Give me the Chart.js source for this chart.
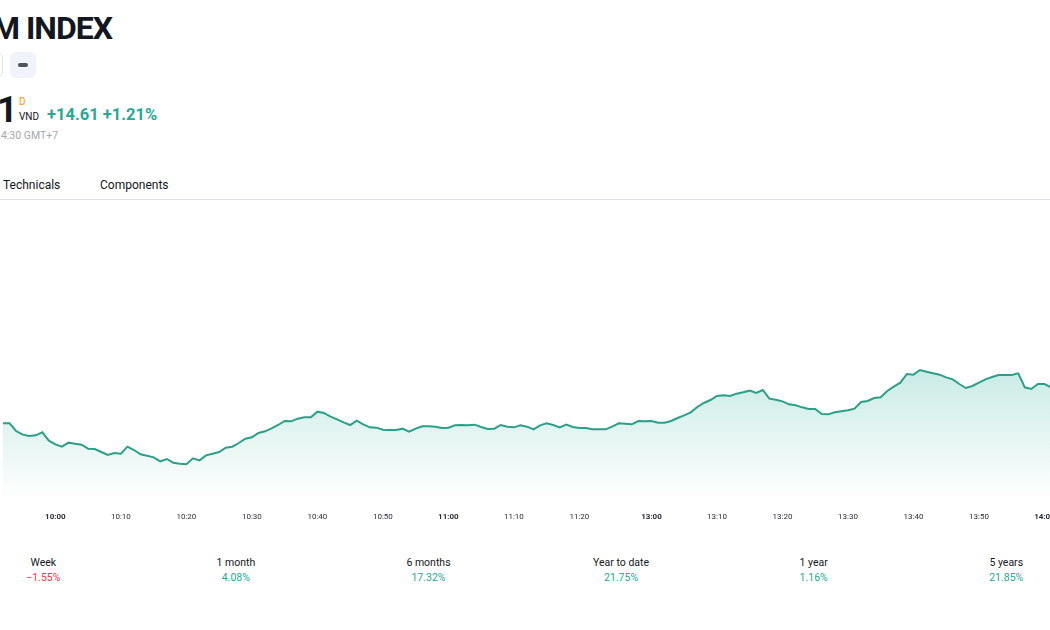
<!DOCTYPE html>
<html>
<head>
<meta charset="utf-8">
<script src="https://cdn.jsdelivr.net/npm/chart.js@4.4.0/dist/chart.umd.min.js"></script>
<style>
  html, body { margin: 0; padding: 0; background: #fff; }
  body { width: 1050px; height: 630px; overflow: hidden; position: relative; font-family: Roboto, "Noto Sans", sans-serif; color: #131722; }
  .t { position: absolute; white-space: nowrap; line-height: 1; }
  #title { left: -8px; top: 12px; font-size: 32px; font-weight: 700; letter-spacing: -1px; }
  .btn { position: absolute; top: 52px; height: 26px; border-radius: 6px; }
  #btn1 { left: -30px; width: 33px; border: 1px solid #e0e3eb; box-sizing: border-box; }
  #btn2 { left: 10px; width: 26px; background: #f0f3fa; }
  #btn2 i { position: absolute; left: 8px; top: 11px; width: 10px; height: 4px; border-radius: 2px; background: #50535e; }
  #price { left: -3px; top: 92px; font-size: 36px; font-weight: 700; }
  #flag { left: 19px; top: 97px; font-size: 10px; color: #ff9800; }
  #cur { left: 19px; top: 112px; font-size: 10px; }
  #chg { left: 47px; top: 107px; font-size: 16.5px; font-weight: 700; color: #22ab94; }
  #asof { left: -5px; top: 131px; font-size: 10.5px; color: #a3a6af; }
  .tab { top: 179px; font-size: 12px; }
  #divider { position: absolute; left: 0; top: 199px; width: 1050px; height: 1px; background: #e0e3eb; }
  #wrap { position: absolute; left: -9.4px; top: 200px; width: 1100px; height: 330px; }
  #perf { position: absolute; left: -53px; top: 555px; display: flex; }
  #perf div { width: 192.6px; text-align: center; font-size: 10.5px; line-height: 15px; }
</style>
</head>
<body>
<div class="t" id="title">M INDEX</div>
<div class="btn" id="btn1"></div>
<div class="btn" id="btn2"><i></i></div>
<div class="t" id="price">1</div>
<div class="t" id="flag">D</div>
<div class="t" id="cur">VND</div>
<div class="t" id="chg">+14.61 +1.21%</div>
<div class="t" id="asof">14:30 GMT+7</div>
<div class="t tab" style="left:3px">Technicals</div>
<div class="t tab" style="left:100px">Components</div>
<div id="divider"></div>
<div id="wrap"><canvas id="chart" width="1100" height="330"></canvas></div>
<div id="perf"></div>
<script>
// trading sessions (one point per minute), lunch break skipped
const sessions = [['09:52', '11:30'], ['13:00', '14:01']];

const prices = [
  1216.5, 1216.5, 1215.35, 1214.8, 1214.6, 1214.7, 1215.15, 1213.9, 1213.35, 1213.0,
  1213.6, 1213.45, 1213.3, 1212.7, 1212.65, 1212.2, 1211.75, 1212.05, 1211.95, 1213.0,
  1212.5, 1211.85, 1211.65, 1211.4, 1210.8, 1211.15, 1210.6, 1210.45, 1210.35, 1211.25,
  1210.95, 1211.7, 1211.95, 1212.2, 1212.85, 1213.0, 1213.55, 1214.2, 1214.4, 1215.05,
  1215.3, 1215.75, 1216.25, 1216.85, 1216.8, 1217.2, 1217.4, 1217.4, 1218.25, 1218.05,
  1217.5, 1217.1, 1216.65, 1216.25, 1216.9, 1216.35, 1215.9, 1215.85, 1215.55, 1215.5,
  1215.5, 1215.7, 1215.25, 1215.7, 1216.05, 1216.05, 1216.0, 1215.8, 1215.85, 1216.2,
  1216.25, 1216.2, 1216.3, 1215.95, 1215.65, 1215.7, 1216.25, 1216.0, 1215.9, 1216.2,
  1216.0, 1215.6, 1216.2, 1216.5, 1216.25, 1215.9, 1216.3, 1215.95, 1215.8, 1215.8,
  1215.6, 1215.6, 1215.6, 1216.0, 1216.5, 1216.45, 1216.35, 1216.85, 1216.8,
  1216.85, 1216.6, 1216.6, 1216.85, 1217.3, 1217.7, 1218.15, 1218.95, 1219.55, 1220.0,
  1220.6, 1220.7, 1220.6, 1220.95, 1221.15, 1221.4, 1221.05, 1221.5, 1220.2, 1220.05,
  1219.8, 1219.35, 1219.2, 1218.9, 1218.65, 1218.65, 1217.9, 1217.85, 1218.15, 1218.3,
  1218.45, 1218.7, 1219.7, 1219.85, 1220.3, 1220.4, 1221.35, 1222.0, 1222.6, 1223.9,
  1223.8, 1224.5, 1224.25, 1224.0, 1223.8, 1223.4, 1223.1, 1222.4, 1221.8, 1222.1,
  1222.6, 1223.1, 1223.45, 1223.75, 1223.75, 1223.75, 1224.0, 1221.9, 1221.65, 1222.4,
  1222.4, 1221.9
];

const perfLabels = ['Week', '1 month', '6 months', 'Year to date', '1 year', '5 years'];
const perfValues = [-1.55, 4.08, 17.32, 21.75, 1.16, 21.85];

const yMin = 1205, yMax = 1250;

function toMin(s) { const p = s.split(':'); return +p[0] * 60 + +p[1]; }
function fmt(m) { return String(Math.floor(m / 60)).padStart(2, '0') + ':' + String(m % 60).padStart(2, '0'); }
const times = [];
sessions.forEach(([a, b]) => { for (let m = toMin(a); m <= toMin(b); m++) times.push(fmt(m)); });
const sessionEnds = sessions.map(s => s[1]);

const ctx = document.getElementById('chart').getContext('2d');
new Chart(ctx, {
  type: 'line',
  data: {
    labels: times,
    datasets: [{
      data: prices,
      borderColor: '#2c9f88',
      borderWidth: 2,
      pointRadius: 0,
      tension: 0,
      fill: 'start',
      backgroundColor: (c) => {
        const chart = c.chart;
        const area = chart.chartArea;
        if (!area) return 'rgba(34,171,148,0.1)';
        const top = chart.scales.y.getPixelForValue(Math.max(...prices));
        const g = chart.ctx.createLinearGradient(0, top, 0, area.bottom);
        g.addColorStop(0, 'rgba(34,171,148,0.24)');
        g.addColorStop(1, 'rgba(34,171,148,0)');
        return g;
      }
    }]
  },
  options: {
    responsive: false,
    animation: false,
    events: [],
    layout: { padding: { left: 0, right: 40, top: 0, bottom: 0 } },
    plugins: { legend: { display: false }, tooltip: { enabled: false } },
    scales: {
      x: {
        type: 'category',
        offset: false,
        grid: { display: false, drawTicks: false },
        border: { display: false },
        afterFit: (s) => { s.height = 30; },
        ticks: {
          autoSkip: false,
          maxRotation: 0,
          padding: 12,
          color: '#2a2e39',
          font: (c) => ({ family: 'Roboto', size: 8, weight: (times[c.index] || '').endsWith(':00') ? 'bold' : 'normal' }),
          callback: (v, i) => (times[i].endsWith('0') && !sessionEnds.includes(times[i])) ? times[i] : ''
        }
      },
      y: { display: false, min: yMin, max: yMax }
    }
  }
});

const perf = document.getElementById('perf');
perfLabels.forEach((l, i) => {
  const d = document.createElement('div');
  const v = perfValues[i];
  const txt = (v < 0 ? '\u2212' + Math.abs(v).toFixed(2) : v.toFixed(2)) + '%';
  d.innerHTML = l + '<br><span style="color:' + (v < 0 ? '#f23645' : '#22ab94') + '">' + txt + '</span>';
  perf.appendChild(d);
});
</script>
</body>
</html>
